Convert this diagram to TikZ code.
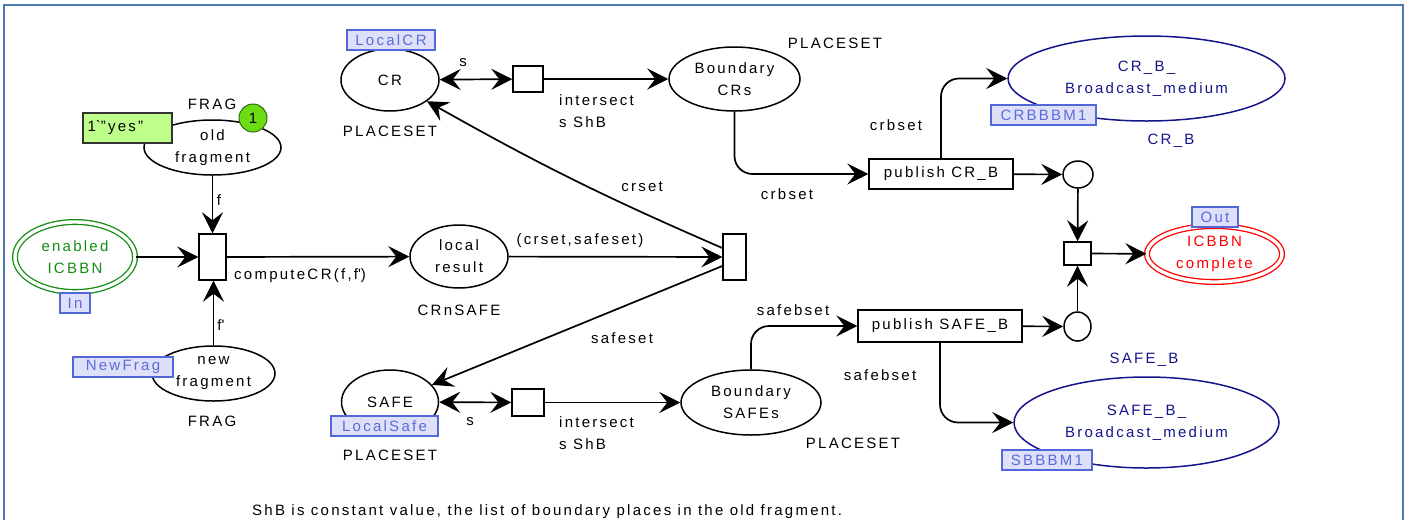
\documentclass[tikz,border=0pt]{standalone}
\usepackage{fontspec}
\setmainfont{Liberation Sans}[LetterSpace=15]
\usetikzlibrary{shapes.geometric,arrows.meta}

\definecolor{frameblue}{RGB}{74,122,176}
\definecolor{placegreen}{RGB}{20,140,20}
\definecolor{navyplace}{RGB}{20,20,140}
\definecolor{tagfill}{RGB}{222,224,250}
\definecolor{tagdraw}{RGB}{80,104,216}
\definecolor{tagtext}{RGB}{90,108,216}
\definecolor{tokgreen}{RGB}{110,220,20}
\definecolor{tokdraw}{RGB}{40,110,10}
\definecolor{markfill}{RGB}{190,255,140}

\tikzset{
  place/.style={draw, ellipse, line width=1.5pt, inner sep=0pt, align=center},
  dplace/.style={ellipse, inner sep=0pt, align=center, draw, double=white,
    double distance=3.4pt, line width=1.3pt},
  trans/.style={draw, rectangle, line width=1.4pt, inner sep=0pt, fill=white},
  tag/.style={draw=tagdraw, fill=tagfill, text=tagtext, line width=1.2pt,
    rectangle, inner sep=0pt},
  lbl/.style={inner sep=0pt},
  tip/.tip={Stealth[length=21pt,width=21pt,inset=8pt]},
  arc/.style={line width=1.7pt, -tip},
  darc/.style={line width=1.7pt, tip-tip},
}

\begin{document}
\begin{tikzpicture}[x=1pt,y=-1pt,font=\fontsize{15}{22}\selectfont]
\useasboundingbox (0,0) rectangle (1408,520);

% page frame
\draw[frameblue, line width=2.5pt] (4,520) -- (4,5) -- (1403,5) -- (1403,520);

% places
\node[place, minimum width=98, minimum height=62] (CR) at (390,80) {C\,R};
\node[place, minimum width=137, minimum height=55] (oldfrag) at (212.5,147.5) {old\\fragment};
\node[dplace, draw=placegreen, text=placegreen, minimum width=120, minimum height=70] (enabled) at (75,257) {enabled\\ICBBN};
\node[place, minimum width=123, minimum height=55] (newfrag) at (213.5,373.5) {new\\fragment};
\node[place, minimum width=98, minimum height=63] (local) at (459,256.5) {local\\result};
\node[place, minimum width=97, minimum height=64] (SAFE) at (390,402) {SAFE};
\node[place, minimum width=131, minimum height=64] (BCR) at (734.5,79) {Boundary\\CRs};
\node[place, minimum width=140, minimum height=65] (BSAFE) at (751,402.5) {Boundary\\SAFEs};
\node[place, draw=navyplace, text=navyplace, minimum width=277, minimum height=85] (CRBBM) at (1146.5,78.5) {CR\_B\_\\Broadcast\_medium};
\node[place, draw=navyplace, text=navyplace, minimum width=265, minimum height=91] (SBBM) at (1146.5,422.5) {SAFE\_B\_\\Broadcast\_medium};
\node[dplace, draw=red, text=red, minimum width=135, minimum height=56] (done) at (1214.5,254) {ICBBN\\complete};
\node[place, minimum width=30, minimum height=27] (circTop) at (1078,174.5) {};
\node[place, minimum width=27, minimum height=29] (circBot) at (1077.5,326.5) {};

% transitions
\node[trans, minimum width=27, minimum height=46] (tCompute) at (212.5,257) {};
\node[trans, minimum width=30, minimum height=26] (tCRS) at (528,79) {};
\node[trans, minimum width=32, minimum height=27] (tSafeS) at (528,402.5) {};
\node[trans, minimum width=23, minimum height=46] (tSplit) at (734.5,257) {};
\node[trans, minimum width=144, minimum height=30] (pubCR) at (941,174) {publish CR\_B};
\node[trans, minimum width=164, minimum height=32] (pubSAFE) at (940,326) {publish SAFE\_B};
\node[trans, minimum width=27, minimum height=23] (tJoin) at (1077.5,253.5) {};

% arcs
\draw[arc] (oldfrag) -- (tCompute);
\draw[arc] (newfrag.north) -- (newfrag.north |- tCompute.south);
\draw[arc] (enabled) -- (tCompute);
\draw[arc] (tCompute) -- (local);
\draw[arc] (local) -- (tSplit);
\draw[arc] ([yshift=9pt]tSplit.west) to[bend left=3] (CR);
\draw[arc] ([yshift=-9pt]tSplit.west) -- (SAFE);
\draw[darc] (CR) -- (tCRS);
\draw[arc] (tCRS) -- (BCR);
\draw[darc] (SAFE) -- (tSafeS);
\draw[arc] (tSafeS) -- (BSAFE);
\draw[arc, rounded corners=18pt] (BCR.south) |- (pubCR.west);
\draw[arc, rounded corners=18pt] (pubCR.north) |- (CRBBM.west);
\draw[arc] (pubCR) -- (circTop);
\draw[arc] (circTop) -- (tJoin);
\draw[arc, rounded corners=18pt] (BSAFE.north) |- (pubSAFE.west);
\draw[arc, rounded corners=18pt] (pubSAFE.south) |- (SBBM.west);
\draw[arc] (pubSAFE) -- (circBot);
\draw[arc] (circBot) -- (tJoin);
\draw[arc] (tJoin) -- (done);

% port and fusion tags
\node[tag, minimum width=88, minimum height=20] (tagCR) at (391,40) {LocalC\,R};
\node[tag, minimum width=30, minimum height=20] (tagIn) at (75,303) {In};
\node[tag, minimum width=100, minimum height=20] (tagNew) at (123,367) {NewFrag};
\node[tag, minimum width=107, minimum height=20] (tagSafe) at (384.5,426) {LocalSafe};
\node[tag, minimum width=105, minimum height=20] (tagCRB) at (1043.5,115) {CRBBBM1};
\node[tag, minimum width=90, minimum height=20] (tagSB) at (1047,460) {SBBBM1};
\node[tag, minimum width=46, minimum height=20] (tagOut) at (1215,217) {Out};

% initial marking and current token
\node[draw=black!80, fill=markfill, line width=1.2pt, minimum width=89, minimum height=30,
      inner sep=0pt, text width=80, align=left] (mark) at (127.5,128) {1\textasciigrave"yes"};
\node[circle, draw=tokdraw, fill=tokgreen, line width=1pt, minimum size=28, inner sep=0pt] (tok) at (253,118) {1};

% colour sets and inscriptions
\node[lbl] (cs1) at (212,104) {FRAG};
\node[lbl] (cs2) at (212,421) {FRAG};
\node[lbl] (cs3) at (390,131) {PLACESET};
\node[lbl] (cs4) at (390,455) {PLACESET};
\node[lbl] (cs5) at (459,310) {CRnSAFE};
\node[lbl] (cs6) at (835,43) {PLACESET};
\node[lbl] (cs7) at (853,443) {PLACESET};
\node[lbl, text=navyplace] (cs8) at (1171,141) {CR\_B};
\node[lbl, text=navyplace] (cs9) at (1144,360) {SAFE\_B};

\node[lbl] (i1) at (219,200) {f};
\node[lbl] (i2) at (221,325) {f\textquotesingle};
\node[lbl, anchor=west] (i3) at (234,276) {computeC\,R(f,f\textquotesingle)};
\node[lbl] (i4) at (580,241) {(crset,safeset)};
\node[lbl] (i5) at (642,187) {crset};
\node[lbl] (i6) at (622,338) {safeset};
\node[lbl] (i7) at (463,63) {s};
\node[lbl] (i8) at (470,422) {s};
\node[lbl, anchor=west, align=left] (i9) at (559,111) {intersect\\s ShB};
\node[lbl, anchor=west, align=left] (i10) at (559,433.5) {intersect\\s ShB};
\node[lbl] (i11) at (896,125) {crbset};
\node[lbl] (i12) at (787,194) {crbset};
\node[lbl] (i13) at (793,310) {safebset};
\node[lbl] (i14) at (880,375) {safebset};

\node[lbl, anchor=west] (note) at (252,512) {ShB is constant value, the list of boundary places in the old fragment.};
\end{tikzpicture}
\end{document}
